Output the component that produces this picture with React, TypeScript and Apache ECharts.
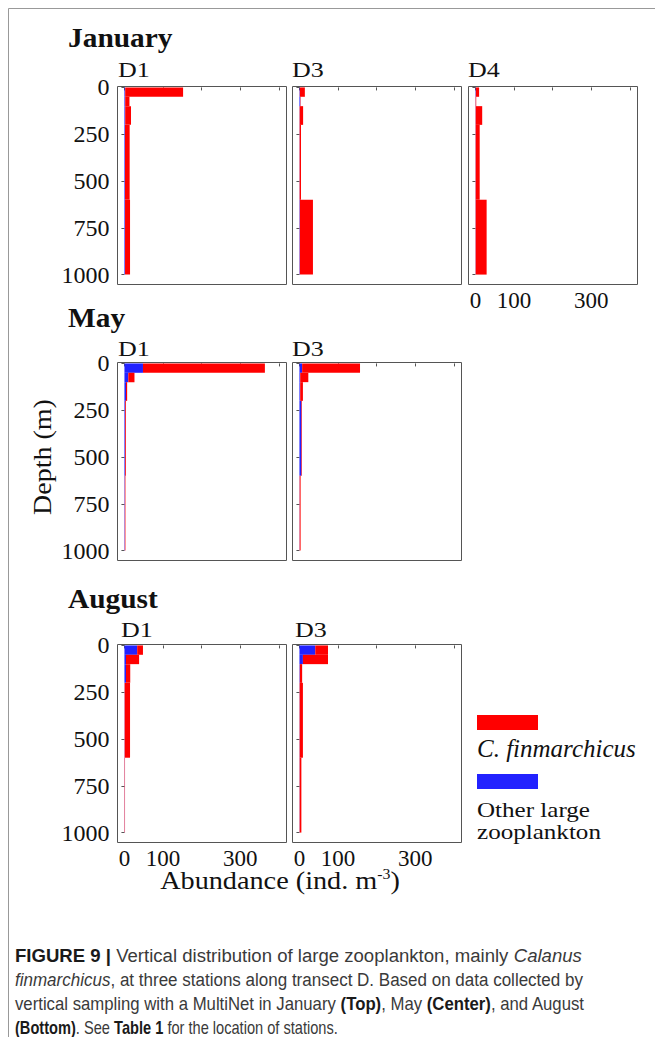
import React, { useEffect, useRef } from "react";
import * as echarts from "echarts";

// ---- data ----
const DEPTH_TOP = [0, 50, 100, 200, 600];
const DEPTH_BOTTOM = [50, 100, 200, 600, 1000];

const JAN_D1_CFIN = [150, 11, 15, 12, 13];
const JAN_D1_OTHER = [2, 2, 2, 1.5, 1.5];
const JAN_D3_CFIN = [13, 1, 9, 3.5, 34];
const JAN_D3_OTHER = [1, 2, 0.5, 0.5, 1];
const JAN_D4_CFIN = [8.5, 1.5, 17, 10.5, 28.5];
const JAN_D4_OTHER = [1, 0.5, 0.5, 0.5, 0.5];
const MAY_D1_CFIN = [316, 16, 3, 2, 1.5];
const MAY_D1_OTHER = [48, 10, 4, 2, 1];
const MAY_D3_CFIN = [150, 21, 7, 1.5, 2.5];
const MAY_D3_OTHER = [7, 2, 2, 5, 0.5];
const AUG_D1_CFIN = [15, 34, 11, 14, 1];
const AUG_D1_OTHER = [33, 4, 4, 0.5, 0.5];
const AUG_D3_CFIN = [33, 65, 6, 8.5, 4.5];
const AUG_D3_OTHER = [41, 9, 1, 0.5, 0.5];

const Y_TICKS = [0, 250, 500, 750, 1000];
const X_TICKS = [0, 100, 200, 300, 400];
const X_LABELS = [0, 100, 300];

const MONTHS = ["January", "May", "August"];
const STATIONS = ["D1", "D3", "D4"];
const LEGEND_OTHER = ["Other large", "zooplankton"];

const CAPTION: [string, string][][] = [
  [["b", "FIGURE 9 |"], ["n", " Vertical distribution of large zooplankton, mainly "], ["i", "Calanus"]],
  [["i", "finmarchicus"], ["n", ", at three stations along transect D. Based on data collected by"]],
  [["n", "vertical sampling with a MultiNet in January "], ["b", "(Top)"], ["n", ", May "], ["b", "(Center)"], ["n", ", and August"]],
  [["b", "(Bottom)"], ["n", ". See "], ["b", "Table 1"], ["n", " for the location of stations."]],
];

// ---- layout ----
const SERIF = "'Liberation Serif', 'Times New Roman', serif";
const SANS = "'Liberation Sans', Arial, sans-serif";
const RED = "#ff0000";
const BLUE = "#2222ff";
const PW = 169;
const PH = 198;
const CAP_SIZE = 18;
const CAP_Y = [956, 980, 1004, 1027];
const CAP_W = [567, 568, 570, 323];
const LEGEND_OTHER_Y = [809.5, 832];

const PANELS = [
  { station: STATIONS[0], cfin: JAN_D1_CFIN, other: JAN_D1_OTHER, left: 117.5, top: 86.5, yl: true, xl: false, sx: 118, sy: 70 },
  { station: STATIONS[1], cfin: JAN_D3_CFIN, other: JAN_D3_OTHER, left: 292.5, top: 86.5, yl: false, xl: false, sx: 292, sy: 70 },
  { station: STATIONS[2], cfin: JAN_D4_CFIN, other: JAN_D4_OTHER, left: 468.5, top: 86.5, yl: false, xl: true, sx: 468, sy: 70 },
  { station: STATIONS[0], cfin: MAY_D1_CFIN, other: MAY_D1_OTHER, left: 117.5, top: 362.5, yl: true, xl: false, sx: 118, sy: 349 },
  { station: STATIONS[1], cfin: MAY_D3_CFIN, other: MAY_D3_OTHER, left: 292.5, top: 362.5, yl: false, xl: false, sx: 292, sy: 349 },
  { station: STATIONS[0], cfin: AUG_D1_CFIN, other: AUG_D1_OTHER, left: 117.5, top: 644.5, yl: true, xl: true, sx: 121, sy: 630 },
  { station: STATIONS[1], cfin: AUG_D3_CFIN, other: AUG_D3_OTHER, left: 292.5, top: 644.5, yl: false, xl: true, sx: 295, sy: 630 },
];

const TITLES = [
  { text: MONTHS[0], y: 37 },
  { text: MONTHS[1], y: 317 },
  { text: MONTHS[2], y: 598 },
];

function makeRender(color: string) {
  return (params: any, api: any) => {
    const a = api.coord([api.value(2), api.value(0)]);
    const b = api.coord([api.value(3), api.value(1)]);
    return {
      type: "rect",
      shape: { x: a[0], y: a[1], width: Math.max(b[0] - a[0], 0), height: b[1] - a[1] },
      style: { fill: color },
    };
  };
}

function fontFor(kind: string) {
  const w = kind === "b" ? "bold" : "normal";
  const s = kind === "i" ? "italic" : "normal";
  return `${s} ${w} ${CAP_SIZE}px "Liberation Sans", Arial, sans-serif`;
}

function measureLine(segs: [string, string][]) {
  const ctx = document.createElement("canvas").getContext("2d");
  if (!ctx) return 0;
  let w = 0;
  segs.forEach(([k, t]) => {
    ctx.font = fontFor(k);
    w += ctx.measureText(t).width;
  });
  return w;
}

export default function App() {
  const ref = useRef<HTMLDivElement>(null);
  useEffect(() => {
    document.body.style.margin = "0";
    const chart = echarts.init(ref.current!, null, { renderer: "svg" });
    const grid: any[] = [];
    const xAxis: any[] = [];
    const yAxis: any[] = [];
    const series: any[] = [];
    PANELS.forEach((p, i) => {
      grid.push({ left: p.left, top: p.top, width: PW, height: PH, show: true, borderColor: "#555", borderWidth: 1, backgroundColor: "#fff" });
      xAxis.push({
        gridIndex: i, type: "value", min: -18, max: 420,
        axisLine: { show: false }, splitLine: { show: false },
        axisTick: { show: true, length: 3, lineStyle: { color: "#555" }, customValues: X_TICKS },
        axisLabel: {
          show: p.xl, customValues: X_LABELS, margin: 8, fontSize: 23, lineHeight: 16,
          fontFamily: SERIF, color: "#111", formatter: (v: number) => String(v),
        },
      });
      yAxis.push({
        gridIndex: i, type: "value", inverse: true, min: -5, max: 1053,
        axisLine: { show: false }, splitLine: { show: false },
        axisTick: { show: true, length: 3, lineStyle: { color: "#555" }, customValues: Y_TICKS },
        axisLabel: {
          show: p.yl, customValues: Y_TICKS, margin: 8, fontSize: 24,
          fontFamily: SERIF, color: "#111", formatter: (v: number) => String(v),
        },
      });
      const otherData = DEPTH_TOP.map((t, k) => [t, DEPTH_BOTTOM[k], 0, p.other[k]]);
      const cfinData = DEPTH_TOP.map((t, k) => [t, DEPTH_BOTTOM[k], p.other[k], p.other[k] + p.cfin[k]]);
      series.push({
        type: "custom", name: "Other large zooplankton", xAxisIndex: i, yAxisIndex: i,
        renderItem: makeRender(BLUE), encode: { x: [2, 3], y: [0, 1] }, data: otherData,
      });
      series.push({
        type: "custom", name: "C. finmarchicus", xAxisIndex: i, yAxisIndex: i,
        renderItem: makeRender(RED), encode: { x: [2, 3], y: [0, 1] }, data: cfinData,
      });
    });

    const graphic: any[] = [
      { type: "line", shape: { x1: 8.5, y1: 8.5, x2: 655, y2: 8.5 }, style: { stroke: "#999", lineWidth: 1 } },
      { type: "line", shape: { x1: 8.5, y1: 8.5, x2: 8.5, y2: 1037 }, style: { stroke: "#999", lineWidth: 1 } },
    ];
    TITLES.forEach((t) => {
      graphic.push({
        type: "text", x: 68, y: t.y, scaleX: 1.05,
        style: { text: t.text, fontFamily: SERIF, fontSize: 28, fontWeight: "bold", fill: "#111", verticalAlign: "middle", align: "left" },
      });
    });
    PANELS.forEach((p) => {
      graphic.push({
        type: "text", x: p.sx, y: p.sy, scaleX: 1.3,
        style: { text: p.station, fontFamily: SERIF, fontSize: 20, fill: "#111", verticalAlign: "middle", align: "left" },
      });
    });
    // axis titles
    graphic.push({
      type: "text", x: 42.5, y: 457, rotation: Math.PI / 2, scaleX: 1.12,
      style: { text: "Depth (m)", fontFamily: SERIF, fontSize: 25, fill: "#111", align: "center", verticalAlign: "middle" },
    });
    graphic.push({
      type: "text", x: 280, y: 881, scaleX: 1.13,
      style: {
        text: "{a|Abundance (ind. m}{s|-3}{a|)}",
        align: "center", verticalAlign: "middle", fontFamily: SERIF, fontSize: 25, fill: "#111",
        rich: {
          a: { fontFamily: SERIF, fontSize: 25, fill: "#111", lineHeight: 28, verticalAlign: "middle" },
          s: { fontFamily: SERIF, fontSize: 14, fill: "#111", lineHeight: 28, verticalAlign: "top" },
        },
      },
    });
    // legend
    graphic.push({ type: "rect", shape: { x: 477, y: 715, width: 61, height: 15 }, style: { fill: RED } });
    graphic.push({
      type: "text", x: 477, y: 748,
      style: { text: "C. finmarchicus", fontFamily: SERIF, fontSize: 25, fontStyle: "italic", fill: "#111", verticalAlign: "middle" },
    });
    graphic.push({ type: "rect", shape: { x: 477, y: 774, width: 61, height: 15 }, style: { fill: BLUE } });
    LEGEND_OTHER.forEach((t, k) => {
      graphic.push({
        type: "text", x: 477, y: LEGEND_OTHER_Y[k], scaleX: 1.14,
        style: { text: t, fontFamily: SERIF, fontSize: 22, fill: "#111", verticalAlign: "middle" },
      });
    });
    // caption
    const rich = {
      n: { fontFamily: SANS, fontSize: CAP_SIZE, fill: "#3a3a3a" },
      b: { fontFamily: SANS, fontSize: CAP_SIZE, fill: "#1a1a1a", fontWeight: "bold" },
      i: { fontFamily: SANS, fontSize: CAP_SIZE, fill: "#3a3a3a", fontStyle: "italic" },
    };
    CAPTION.forEach((segs, k) => {
      const w = measureLine(segs);
      const sc = w > 0 ? CAP_W[k] / w : 0.85;
      const text = segs.map(([kind, t]) => `{${kind}|${t}}`).join("");
      graphic.push({
        type: "text", x: 15, y: CAP_Y[k], scaleX: sc,
        style: { text, rich, fontFamily: SANS, fontSize: CAP_SIZE, fill: "#3a3a3a", verticalAlign: "middle", align: "left" },
      });
    });

    chart.setOption({ animation: false, grid, xAxis, yAxis, series, graphic });
    return () => chart.dispose();
  }, []);
  return <div ref={ref} style={{ width: 655, height: 1037 }} />;
}
